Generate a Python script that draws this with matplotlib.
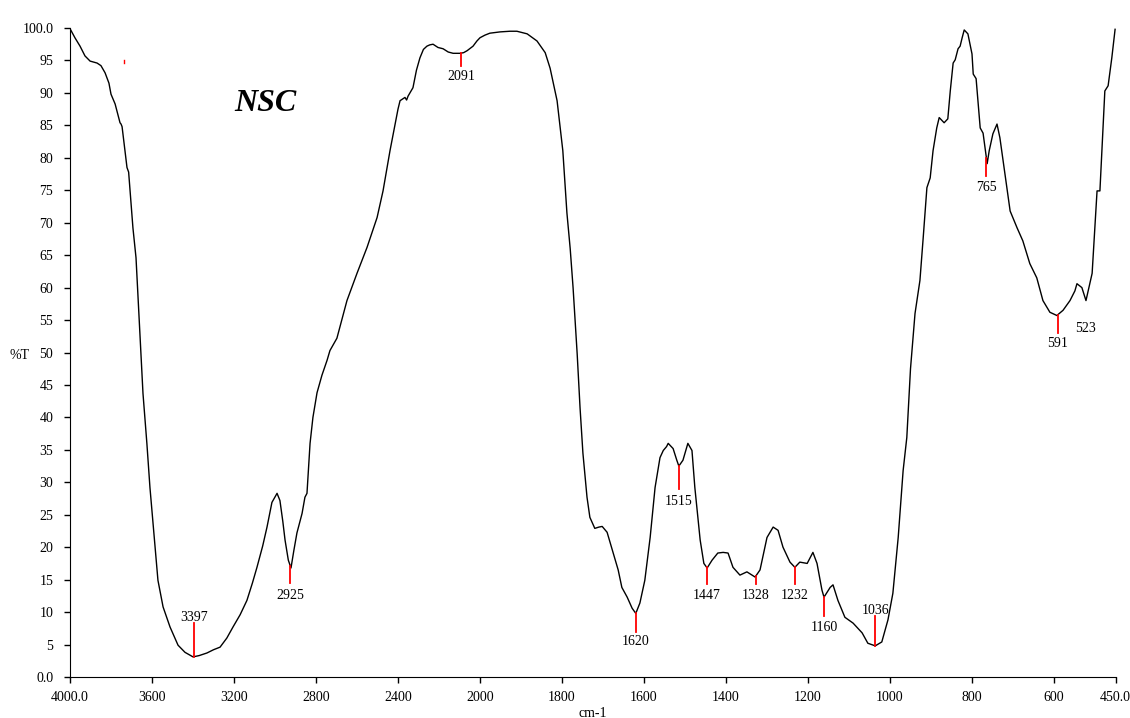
import numpy as np
import matplotlib
matplotlib.use("Agg")
import matplotlib.pyplot as plt

# spectrum (cm-1, %T)
wavenumber = [4000, 3976, 3951, 3927, 3902, 3868, 3849, 3829, 3810, 3800, 3780, 3766,
              3756, 3751, 3746, 3722, 3714, 3693, 3678, 3659, 3644, 3625,
              3610, 3595, 3571, 3546, 3512, 3473, 3439, 3400, 3370, 3332, 3300, 3268,
              3235, 3205, 3170, 3137, 3110, 3088, 3060, 3039, 3015, 2990, 2976, 2962,
              2951, 2935, 2922, 2908, 2893, 2868, 2854, 2844, 2835, 2829, 2815, 2795,
              2771, 2746, 2732, 2698, 2649, 2600, 2551, 2502, 2473, 2439, 2400, 2390,
              2366, 2358, 2351, 2327, 2310, 2293, 2276, 2259, 2245, 2229, 2205, 2180,
              2155, 2131, 2097, 2080, 2063, 2034, 2015, 2000, 1988, 1976, 1951, 1927,
              1910, 1885, 1861, 1841, 1829, 1812, 1798, 1788, 1780, 1773, 1763, 1756,
              1749, 1739, 1732, 1720, 1710, 1702, 1690, 1675, 1663, 1654, 1641, 1629,
              1620, 1610, 1598, 1585, 1573, 1561, 1553, 1545, 1541, 1535, 1529, 1520,
              1515, 1505, 1493, 1483, 1476, 1463, 1454, 1446, 1434, 1420, 1407, 1395,
              1383, 1366, 1349, 1329, 1317, 1300, 1285, 1273, 1261, 1244, 1232, 1220,
              1202, 1188, 1178, 1166, 1161, 1146, 1139, 1127, 1110, 1090, 1068, 1054,
              1036, 1020, 1005, 993, 980, 968, 959, 950, 944, 939, 927, 919, 910, 902,
              895, 886, 880, 868, 859, 853, 846, 841, 834, 829, 824, 819, 810, 800,
              797, 790, 785, 780, 773, 763, 758, 749, 739, 732, 724, 715, 707, 690,
              676, 659, 642, 627, 610, 593, 578, 561, 549, 544, 532, 522, 507, 495,
              488, 476, 468, 459, 451]
transmittance = [99.9, 98.5, 97.2, 95.7, 94.9, 94.6, 94.2, 93.1, 91.5, 89.8, 88.3, 86.6,
                 85.4, 85.2, 84.8, 78.5, 77.8, 69.2, 64.6, 52.9, 43.7, 36.0,
                 29.2, 23.7, 14.9, 10.8, 7.7, 4.9, 3.8, 3.1, 3.3, 3.7, 4.2, 4.6,
                 6.0, 7.7, 9.6, 11.8, 14.5, 16.9, 20.2, 23.1, 26.9, 28.3, 27.2, 24.0,
                 21.1, 18.0, 16.8, 19.5, 22.2, 25.2, 27.7, 28.3, 33.0, 36.0, 40.0, 43.8,
                 46.5, 48.8, 50.3, 52.2, 58.0, 62.2, 66.2, 70.8, 74.9, 81.1, 87.5, 88.8,
                 89.3, 88.9, 89.5, 90.8, 93.5, 95.4, 96.7, 97.2, 97.4, 97.5, 97.0, 96.8,
                 96.3, 96.1, 96.1, 96.2, 96.5, 97.2, 98.0, 98.5, 98.9, 99.2, 99.4, 99.5,
                 99.5, 99.1, 98.0, 96.2, 93.8, 88.8, 81.1, 71.5, 66.0, 60.0, 49.8, 41.5,
                 34.5, 27.7, 24.6, 22.9, 23.1, 23.2, 22.3, 19.1, 16.5, 13.8, 12.3, 10.6,
                 9.8, 11.4, 14.9, 21.5, 29.2, 33.8, 34.9, 35.5, 36.0, 35.6, 35.2, 33.4,
                 32.5, 33.4, 36.0, 34.9, 29.2, 21.1, 17.5, 16.8, 18.0, 19.1, 19.2, 19.1,
                 16.9, 15.7, 16.2, 15.4, 16.5, 21.5, 23.1, 22.6, 20.0, 17.7, 16.9, 17.7,
                 17.5, 19.2, 17.5, 13.4, 12.3, 13.8, 14.2, 11.8, 9.2, 8.3, 6.8, 5.2,
                 4.8, 5.4, 8.8, 12.9, 21.5, 31.8, 36.9, 47.5, 52.2, 56.0, 61.1, 67.7, 75.4, 76.9,
                 81.1, 84.6, 86.2, 85.4, 86.0, 90.3, 94.6, 95.1, 96.8, 97.2, 98.5, 99.7, 99.1, 96.0,
                 92.9, 92.2, 88.3, 84.6, 83.8, 79.1, 81.1, 83.7, 85.2, 83.1, 79.5, 75.4, 71.8, 69.2,
                 67.2, 63.7, 61.5, 58.0, 56.2, 55.7, 56.5, 58.0, 59.5, 60.6, 60.0, 58.0, 62.2, 74.9,
                 74.9, 90.3, 91.1, 95.4, 99.8]

# peak picks: position, where the red tick ends, where the label sits
peaks = [3397, 2925, 2091, 1620, 1515, 1447, 1328, 1232, 1160, 1036, 765, 591]
peak_tip = [8.3, 14.5, 94.2, 6.9, 28.9, 14.3, 14.3, 14.3, 9.4, 9.4, 77.2, 53.0]
peak_label_y = [9.2, 12.6, 92.5, 5.4, 27.1, 12.6, 12.6, 12.6, 7.7, 10.3, 75.5, 51.4]
extra_label = ("523", 524, 53.7)

xticks = [4000, 3600, 3200, 2800, 2400, 2000, 1800, 1600, 1400, 1200, 1000, 800, 600, 450]
xtick_labels = ["4000.0", "3600", "3200", "2800", "2400", "2000", "1800", "1600",
                "1400", "1200", "1000", "800", "600", "450.0"]
yticks = list(range(0, 101, 5))
ytick_labels = ["0.0"] + [str(v) for v in yticks[1:-1]] + ["100.0"]

plt.rcParams['font.family'] = ['Liberation Serif', 'DejaVu Serif']


def fwd(x):
    x = np.asarray(x, dtype=float)
    return np.where(x > 2000, 2000 + (x - 2000) / 2.0, x)


def inv(u):
    u = np.asarray(u, dtype=float)
    return np.where(u > 2000, 2000 + (u - 2000) * 2.0, u)


fig = plt.figure(figsize=(11.3, 7.18), dpi=100)
ax = fig.add_axes([70 / 1130, 1 - 677 / 718, (1115.5 - 70) / 1130, (677 - 28) / 718])
ax.set_xscale('function', functions=(fwd, inv))
ax.plot(wavenumber, transmittance, color='black', lw=1.0)

wn = np.array(wavenumber[::-1], dtype=float)
tr = np.array(transmittance[::-1], dtype=float)
for p, tip, ly in zip(peaks, peak_tip, peak_label_y):
    base = np.interp(p, wn, tr)
    ax.plot([p, p], [base, tip], color='#ff0000', lw=1.3)
    ax.text(p, ly, str(p), ha='center', va='center', fontsize=10)
ax.text(extra_label[1], extra_label[2], extra_label[0], ha='center', va='center', fontsize=10)
ax.plot([3737, 3737], [94.6, 95.0], color='#ff0000', lw=1.0)

ax.text(3049, 88.3, "NSC", fontsize=23, fontweight='bold', fontstyle='italic',
        ha='center', va='center')

ax.set_xlim(4000, 450)
ax.set_ylim(0, 100)
ax.set_xticks(xticks)
ax.set_xticklabels(xtick_labels)
ax.xaxis.set_minor_locator(matplotlib.ticker.NullLocator())
ax.set_yticks(yticks)
ax.set_yticklabels(ytick_labels)
ax.tick_params(axis='both', labelsize=10, length=4, width=1, direction='out')
ax.tick_params(axis='y', pad=8)
ax.tick_params(axis='x', pad=6)
ax.spines['top'].set_visible(False)
ax.spines['right'].set_visible(False)
ax.set_xlabel("cm-1", fontsize=10, labelpad=2)
ax.set_ylabel("%T", fontsize=10, rotation=0, ha='center', va='center')
ax.yaxis.set_label_coords(-0.048, 0.495)

fig.savefig("out.png", dpi=100)
